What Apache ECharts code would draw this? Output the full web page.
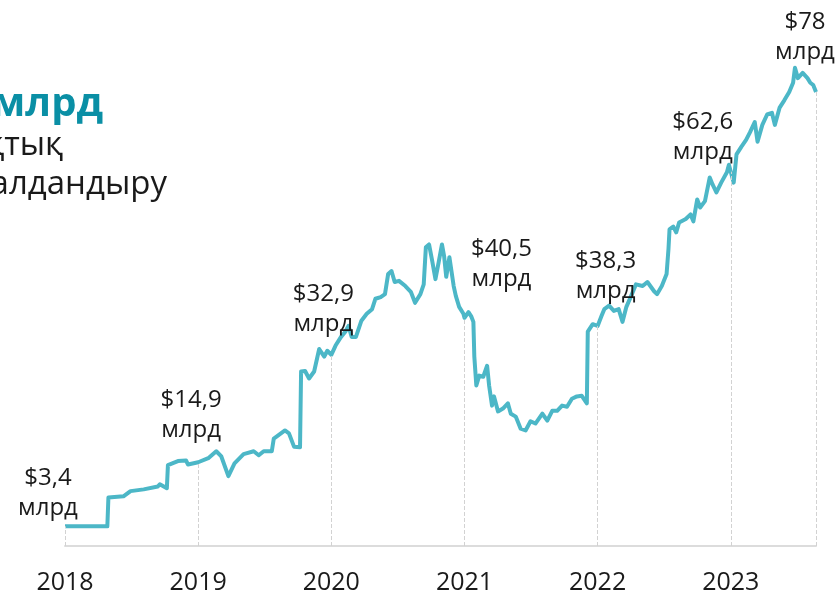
<!DOCTYPE html>
<html>
<head>
<meta charset="utf-8">
<script src="https://cdn.jsdelivr.net/npm/echarts@6/dist/echarts.min.js"></script>
<style>
  html, body { margin: 0; padding: 0; background: #fff; }
  #chart { width: 839px; height: 595px; }
</style>
</head>
<body>
<div id="chart"></div>
<script>
// market cap, USD bn, x = decimal year
let capYears = [
  2018.000, 2018.318, 2018.326, 2018.439, 2018.492, 2018.591, 2018.697, 2018.712, 2018.765, 2018.773,
  2018.848, 2018.909, 2018.924, 2019.000, 2019.076, 2019.136, 2019.174, 2019.227, 2019.273, 2019.341,
  2019.417, 2019.455, 2019.492, 2019.553, 2019.568, 2019.652, 2019.682, 2019.720, 2019.765, 2019.773,
  2019.803, 2019.833, 2019.871, 2019.909, 2019.947, 2019.970, 2020.000, 2020.032, 2020.073, 2020.105,
  2020.129, 2020.153, 2020.185, 2020.226, 2020.266, 2020.306, 2020.331, 2020.371, 2020.403, 2020.427,
  2020.452, 2020.476, 2020.508, 2020.556, 2020.597, 2020.629, 2020.669, 2020.694, 2020.710, 2020.734,
  2020.758, 2020.782, 2020.806, 2020.831, 2020.847, 2020.863, 2020.887, 2020.919, 2020.935, 2020.960,
  2020.992, 2021.000, 2021.030, 2021.052, 2021.067, 2021.074, 2021.089, 2021.111, 2021.141, 2021.170,
  2021.185, 2021.207, 2021.222, 2021.252, 2021.289, 2021.326, 2021.348, 2021.385, 2021.422, 2021.459,
  2021.496, 2021.533, 2021.585, 2021.622, 2021.659, 2021.696, 2021.733, 2021.770, 2021.807, 2021.844,
  2021.881, 2021.919, 2021.926, 2021.963, 2022.000, 2022.029, 2022.050, 2022.086, 2022.122, 2022.158,
  2022.187, 2022.216, 2022.252, 2022.288, 2022.338, 2022.374, 2022.424, 2022.446, 2022.482, 2022.518,
  2022.532, 2022.540, 2022.568, 2022.590, 2022.612, 2022.662, 2022.698, 2022.719, 2022.748, 2022.770,
  2022.806, 2022.842, 2022.863, 2022.892, 2022.928, 2022.971, 2022.986, 2023.000, 2023.022, 2023.043,
  2023.079, 2023.115, 2023.144, 2023.180, 2023.201, 2023.237, 2023.273, 2023.309, 2023.331, 2023.367,
  2023.403, 2023.439, 2023.468, 2023.482, 2023.504, 2023.540, 2023.576, 2023.597, 2023.619, 2023.640
];
let capValues = [
  3.4, 3.4, 8.4, 8.6, 9.5, 9.8, 10.3, 10.7, 10.0, 14.0,
  14.7, 14.8, 14.1, 14.5, 15.2, 16.4, 15.5, 12.1, 14.3, 15.9,
  16.4, 15.7, 16.4, 16.4, 18.6, 20.0, 19.5, 17.2, 17.1, 30.2,
  30.3, 29.0, 30.2, 34.1, 32.8, 33.8, 33.1, 34.7, 36.2, 37.1,
  38.1, 36.2, 36.2, 39.0, 40.2, 41.0, 42.8, 43.1, 43.6, 47.1,
  47.6, 45.7, 45.9, 45.0, 44.0, 42.1, 43.6, 45.3, 51.7, 52.2,
  49.3, 46.2, 49.1, 52.2, 50.2, 46.6, 50.0, 45.0, 43.3, 41.4,
  40.2, 39.5, 40.5, 39.7, 38.8, 32.8, 27.8, 29.5, 29.3, 31.2,
  27.8, 24.3, 25.9, 23.3, 23.8, 24.7, 22.9, 22.4, 20.3, 20.0,
  21.6, 21.2, 22.9, 21.7, 23.4, 23.4, 24.3, 24.1, 25.5, 25.9,
  26.0, 24.7, 37.1, 38.4, 38.1, 39.8, 41.0, 41.6, 40.7, 41.0,
  38.8, 41.4, 43.3, 45.3, 45.0, 45.7, 44.1, 43.6, 45.0, 47.1,
  51.4, 54.8, 55.3, 54.3, 56.0, 56.6, 57.4, 56.2, 60.0, 58.6,
  59.7, 63.8, 62.6, 61.2, 62.9, 64.7, 66.0, 64.8, 62.9, 67.8,
  69.1, 70.3, 71.6, 73.4, 70.0, 72.9, 74.7, 75.0, 72.9, 75.9,
  77.2, 78.6, 80.2, 82.8, 81.0, 81.9, 81.0, 80.2, 79.8, 78.6
];

// annotated points
let noteYears = [2018, 2019, 2020, 2021, 2022, 2023, 2023.64];
let noteLabels = ['$3,4\nмлрд', '$14,9\nмлрд', '$32,9\nмлрд', '$40,5\nмлрд', '$38,3\nмлрд', '$62,6\nмлрд', '$78\nмлрд'];
// label offset from the point, px
let noteOffsets = [[-17, -33], [-7, -47], [-8, -46], [37, -54], [8, -50], [-28, -35], [-11, -55]];

let titleLines = ['$78 млрд', 'нарықтық', 'капиталдандыру'];

let chartDom = document.getElementById('chart');
let myChart = echarts.init(chartDom);

let lineData = capYears.map((y, i) => [y, capValues[i]]);

function valueAt(year) {
    let best = 0;
    capYears.forEach((y, i) => {
        if (Math.abs(y - year) < Math.abs(capYears[best] - year)) best = i;
    });
    return capValues[best];
}

let FONT = '"Open Sans", "Noto Sans", sans-serif';

let option = {
    animation: false,
    backgroundColor: '#fff',
    grid: {
        left: 65,
        right: 23,
        top: 55,
        bottom: 47
    },
    xAxis: {
        type: 'value',
        min: 2018,
        max: 2023.64,
        interval: 1,
        axisLine: { lineStyle: { color: '#dcdcdc', width: 2 } },
        axisTick: { show: false },
        splitLine: { show: false },
        axisLabel: {
            fontSize: 25,
            fontFamily: FONT,
            color: '#1a1a1a',
            margin: 24,
            showMaxLabel: false,
            formatter: function (v) {
                return Number.isInteger(v) ? String(v) : '';
            }
        }
    },
    yAxis: {
        type: 'value',
        min: 0,
        max: 85,
        show: false
    },
    graphic: [
        {
            type: 'text', x: 103, y: 105,
            style: { text: titleLines[0], textAlign: 'right', textVerticalAlign: 'middle',
                     font: 'bold 40px ' + FONT, fill: '#0a8fa5' }
        },
        {
            type: 'text', x: 63, y: 146,
            style: { text: titleLines[1], textAlign: 'right', textVerticalAlign: 'middle',
                     font: '33px ' + FONT, fill: '#1a1a1a' }
        },
        {
            type: 'text', x: 167, y: 185,
            style: { text: titleLines[2], textAlign: 'right', textVerticalAlign: 'middle',
                     font: '33px ' + FONT, fill: '#1a1a1a' }
        }
    ],
    series: [
        {
            type: 'line',
            data: lineData,
            showSymbol: false,
            symbol: 'none',
            lineStyle: { color: '#4cb7c7', width: 4, join: 'round' },
            markLine: {
                silent: true,
                symbol: ['none', 'none'],
                label: { show: false },
                lineStyle: { type: 'dashed', color: '#d2d2d2', width: 1 },
                data: noteYears.map(y => [
                    { coord: [y, 0] },
                    { coord: [y, valueAt(y)] }
                ])
            },
            markPoint: {
                silent: true,
                symbol: 'circle',
                symbolSize: 1,
                itemStyle: { color: 'rgba(0,0,0,0)' },
                label: {
                    show: true,
                    position: 'inside',
                    fontSize: 24,
                    lineHeight: 30,
                    fontFamily: FONT,
                    color: '#1a1a1a',
                    align: 'center',
                    verticalAlign: 'middle'
                },
                data: noteYears.map((y, i) => ({
                    coord: [y, valueAt(y)],
                    value: noteLabels[i],
                    label: { offset: noteOffsets[i], formatter: noteLabels[i] }
                }))
            }
        }
    ]
};

myChart.setOption(option);
</script>
</body>
</html>
